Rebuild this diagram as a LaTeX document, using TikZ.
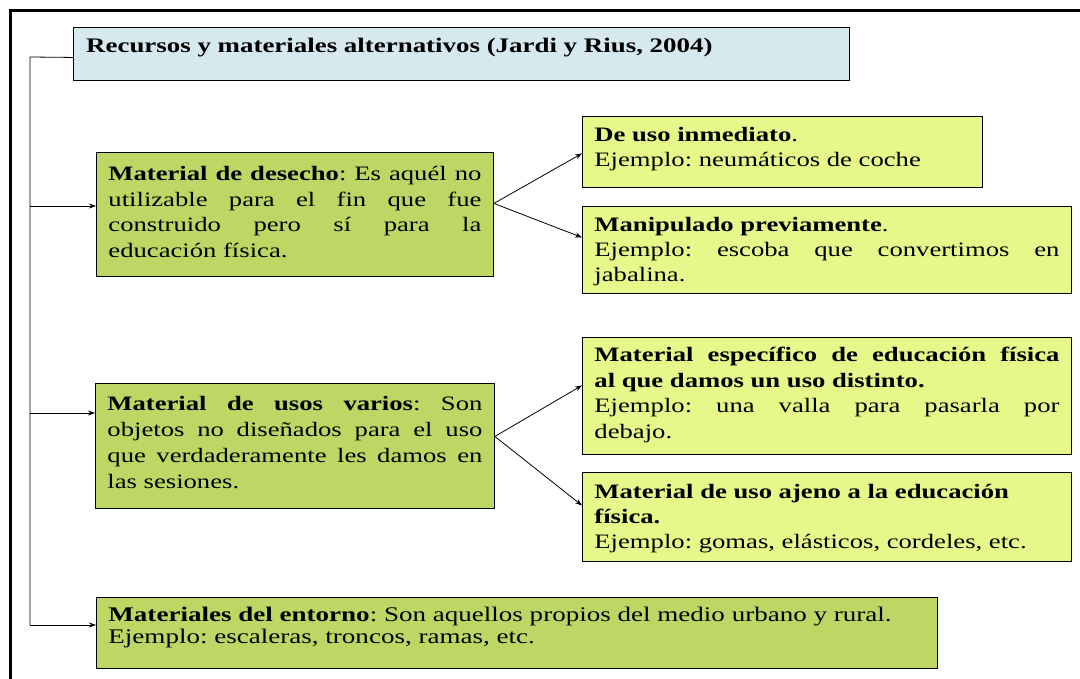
\documentclass[tikz,border=0pt]{standalone}
\usepackage{fontspec}
\setmainfont[FakeStretch=1.3]{Liberation Serif}
\usetikzlibrary{arrows.meta,calc}
\definecolor{titlefill}{RGB}{214,233,238}
\definecolor{darkgreen}{RGB}{190,214,100}
\definecolor{lightgreen}{RGB}{229,249,138}
% #1 height, #2 text width, #3 extra top skip, #4 font size, #5 baselineskip, #6 text
\newcommand\bxt[6]{\parbox[c][#1][t]{#2}{\fontsize{#4}{#5}\selectfont\frenchspacing\hbox{}\vskip#3\relax #6}}
\tikzset{
  box/.style={draw=black, line width=0.9pt, anchor=north west, inner xsep=12pt, inner ysep=0pt},
  mainbox/.style={box, fill=darkgreen},
  subbox/.style={box, fill=lightgreen},
  arr/.style={draw=black, line width=0.8pt, -{Stealth[length=7pt,width=5pt]}},
  conn/.style={draw=black, line width=0.8pt}
}
\begin{document}
\begin{tikzpicture}[x=1pt,y=-1pt]
\useasboundingbox (0,0) rectangle (1080,679);
\draw[line width=3pt] (1080,10.5) -- (10.5,10.5) -- (10.5,679);

\node[draw=black, line width=0.9pt, fill=titlefill, anchor=north west, minimum width=776pt, minimum height=53pt, inner sep=0pt] (title) at (73,27) {};
\node[anchor=base west, inner sep=0pt, font=\fontsize{20.7}{24}\selectfont\bfseries] (titletext) at ($(title.north west)+(13,26)$) {Recursos y materiales alternativos (Jardi y Rius, 2004)};

\node[mainbox] (b1) at (96,152)
  {\bxt{124pt}{373pt}{3pt}{20.5}{25.5}{\textbf{Material de desecho}: Es aquél no\linebreak utilizable para el fin que fue\linebreak construido pero sí para la\linebreak educación física.}};
\node[subbox] (b2) at (582,116)
  {\bxt{71pt}{376pt}{0pt}{20.5}{25}{\textbf{De uso inmediato}.\\Ejemplo: neumáticos de coche}};
\node[subbox] (b3) at (582,206)
  {\bxt{87pt}{465pt}{0pt}{20.5}{25}{\textbf{Manipulado previamente}.\\Ejemplo: escoba que convertimos en\linebreak jabalina.}};
\node[mainbox] (b4) at (95,383)
  {\bxt{125pt}{375pt}{1pt}{20.5}{26}{\textbf{Material de usos varios}: Son\linebreak objetos no diseñados para el uso\linebreak que verdaderamente les damos en\linebreak las sesiones.}};
\node[subbox] (b5) at (582,337)
  {\bxt{117pt}{465pt}{-1pt}{20.5}{25.5}{\textbf{Material específico de educación física\linebreak al que damos un uso distinto.}\\Ejemplo: una valla para pasarla por\linebreak debajo.}};
\node[subbox] (b6) at (582,472)
  {\bxt{89pt}{465pt}{1pt}{20.5}{25}{\textbf{Material de uso ajeno a la educación\\física.}\\Ejemplo: gomas, elásticos, cordeles, etc.}};
\node[mainbox] (b7) at (96,597)
  {\bxt{71pt}{817pt}{2pt}{20.8}{22}{\textbf{Materiales del entorno}: Son aquellos propios del medio urbano y rural.\\Ejemplo: escaleras, troncos, ramas, etc.}};

% trunk
\coordinate (t0) at ($(title.west)+(0,3.5)$);
\coordinate (ttop) at (30,57);
\coordinate (t1) at (30,206);
\coordinate (t2) at (30,413);
\coordinate (t3) at (30,625);
\draw[conn] (t0) -- (ttop) -- (t3);
\draw[arr] (t1) -- (t1 -| b1.west);
\draw[arr] (t2) -- (t2 -| b4.west);
\draw[arr] (t3) -- (t3 -| b7.west);

% branches
\coordinate (o1) at ($(b1.east)+(0,-11)$);
\draw[arr] (o1) -- ($(b2.west)+(0,1.5)$);
\draw[arr] (o1) -- ($(b3.west)+(0,-12.5)$);
\coordinate (o2) at ($(b4.east)+(0,-9.5)$);
\draw[arr] (o2) -- ($(b5.west)+(0,-10.5)$);
\draw[arr] (o2) -- ($(b6.west)+(0,-11.5)$);
\end{tikzpicture}
\end{document}
